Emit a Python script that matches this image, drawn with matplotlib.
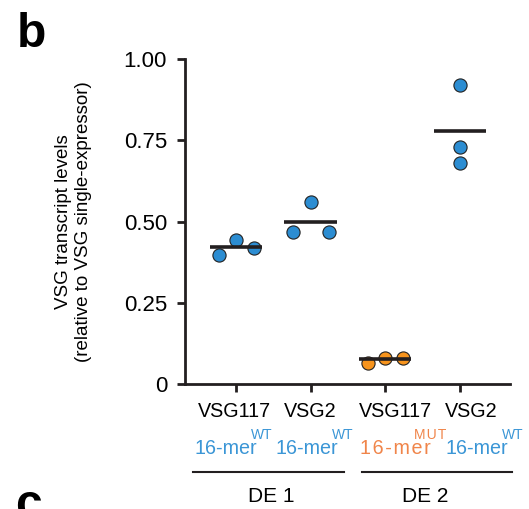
import matplotlib.pyplot as plt

plt.rcParams['font.family'] = ['Liberation Sans', 'DejaVu Sans']

# data
groups = ['VSG117', 'VSG2', 'VSG117', 'VSG2']
positions = [1, 2, 3, 4]
offsets = [-0.23, 0.0, 0.24]
values = [
    [0.398, 0.444, 0.420],
    [0.468, 0.560, 0.468],
    [0.066, 0.080, 0.080],
    [0.920, 0.730, 0.679],
]
means = [0.423, 0.498, 0.076, 0.778]
point_colors = ['#2C8DD2', '#2C8DD2', '#F7941D', '#2C8DD2']
mer_labels = ['WT', 'WT', 'MUT', 'WT']
mer_colors = ['#3B96D6', '#3B96D6', '#F0854A', '#3B96D6']
dom_labels = ['DE 1', 'DE 2']

# label placement (data x)
group_label_x = [0.98, 1.99, 3.14, 4.15]
mer_x = [0.86, 1.95, 3.13, 4.23]
sup_x = [1.35, 2.43, 3.60, 4.71]
dom_x = [1.47, 3.53]

fig = plt.figure(figsize=(5.29, 5.09), dpi=100)
ax = fig.add_axes([0.350, 0.2456, 0.614, 0.638])

for i, (pos, vals) in enumerate(zip(positions, values)):
    # last group is stacked vertically, others spread sideways
    offs = [0, 0, 0] if i == 3 else offsets
    xs = [pos + o for o in offs]
    ax.scatter(xs, vals, s=90, marker='o', color=point_colors[i],
               edgecolor='#222222', linewidth=0.8, zorder=3)
    ax.plot([pos - 0.35, pos + 0.35], [means[i], means[i]],
            color='#231F20', linewidth=2.6, zorder=4, solid_capstyle='butt')

ax.set_xlim(0.32, 4.67)
ax.set_ylim(0, 1.0)
ax.set_yticks([0, 0.25, 0.5, 0.75, 1.0])
ax.set_yticklabels(['0', '0.25', '0.50', '0.75', '1.00'])
ax.set_xticks(positions)
ax.set_xticklabels([])

for side in ['top', 'right']:
    ax.spines[side].set_visible(False)
for side in ['left', 'bottom']:
    ax.spines[side].set_linewidth(2)
    ax.spines[side].set_color('#231F20')
ax.tick_params(axis='both', width=2, length=6, color='#231F20',
               labelsize=16, pad=7)

ax.set_ylabel('VSG transcript levels\n(relative to VSG single-expressor)',
              fontsize=13.5, labelpad=23, linespacing=1.2)

trans = ax.get_xaxis_transform()
for i in range(len(groups)):
    ax.text(group_label_x[i], -0.086, groups[i], transform=trans,
            ha='center', va='center', fontsize=14.2)
    if mer_labels[i] == 'MUT':
        mer = '\u200a'.join('16-mer')
        sup = '\u200a'.join('MUT')
    else:
        mer = '16-mer'
        sup = mer_labels[i]
    ax.text(mer_x[i], -0.2, mer, transform=trans, ha='center',
            va='center', fontsize=14.2, color=mer_colors[i])
    ax.text(sup_x[i], -0.158, sup, transform=trans, ha='center',
            va='center', fontsize=10, color=mer_colors[i], clip_on=False)

ax.plot([0.43, 2.45], [-0.27, -0.27], transform=trans, color='#231F20',
        linewidth=1.5, clip_on=False)
ax.plot([2.69, 4.70], [-0.27, -0.27], transform=trans, color='#231F20',
        linewidth=1.5, clip_on=False)
for x, lab in zip(dom_x, dom_labels):
    ax.text(x, -0.348, lab, transform=trans, ha='center', va='center',
            fontsize=15)

fig.text(0.032, 0.908, 'b', fontsize=34.5, fontweight='bold', va='baseline')
fig.text(0.028, -0.018, 'c', fontsize=34.5, fontweight='bold', va='baseline')

fig.savefig('out.png', dpi=100)
